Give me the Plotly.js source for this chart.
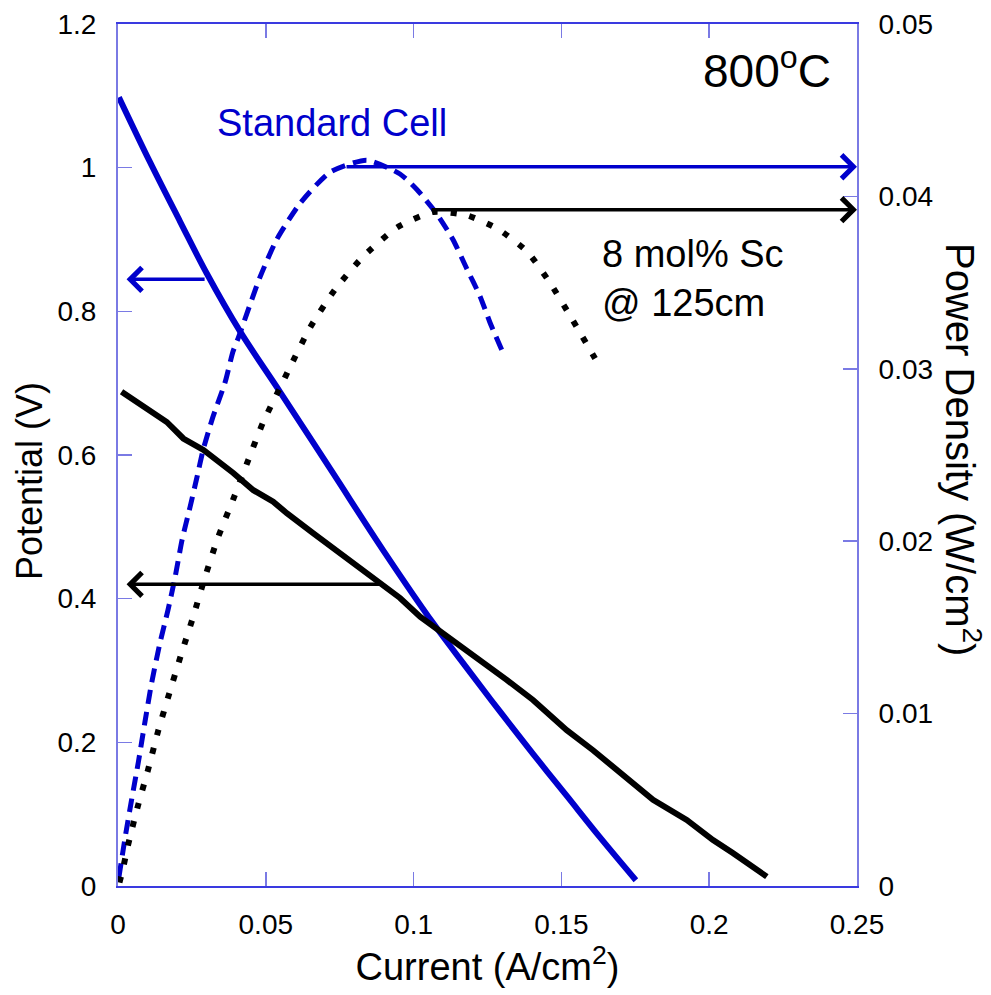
<!DOCTYPE html>
<html>
<head>
<meta charset="utf-8">
<script src="https://cdn.plot.ly/plotly-3.0.1.min.js"></script>
<style>html,body{margin:0;padding:0;background:#fff;}#chart{width:991px;height:995px;}</style>
</head>
<body>
<div id="chart"></div>
<script>
// Standard cell: potential (V) vs current (A/cm2)
var stdCurrentV = [0.0003, 0.0108, 0.0210, 0.0300, 0.0413, 0.0548, 0.0727, 0.0896, 0.1066, 0.1181, 0.1292, 0.1404, 0.1519, 0.1630, 0.1752];
var stdPotential = [1.098, 1.008, 0.925, 0.853, 0.772, 0.688, 0.575, 0.468, 0.366, 0.303, 0.243, 0.184, 0.125, 0.068, 0.008];

// Standard cell: power density (W/cm2)
var stdCurrentP = [0.0003, 0.0024, 0.0046, 0.0069, 0.0091, 0.0114, 0.0142, 0.0169, 0.0193, 0.0217, 0.0244, 0.0267, 0.0288, 0.0321, 0.0362, 0.0389, 0.0407, 0.0480, 0.0537, 0.0616, 0.0717, 0.0841, 0.0954, 0.1011, 0.1078, 0.1133, 0.1180, 0.1225, 0.1258, 0.1298];
var stdPower = [0.0005, 0.0028, 0.0050, 0.0072, 0.0095, 0.0118, 0.0141, 0.0160, 0.0179, 0.0201, 0.0220, 0.0237, 0.0253, 0.0272, 0.0292, 0.0310, 0.0318, 0.0353, 0.0375, 0.0396, 0.0414, 0.0421, 0.0413, 0.0404, 0.0390, 0.0375, 0.0358, 0.0342, 0.0327, 0.0311];

// 8 mol% Sc @ 125cm: potential
var scCurrentV = [0.0012, 0.0074, 0.0165, 0.0221, 0.0289, 0.0390, 0.0458, 0.0525, 0.0571, 0.0661, 0.0796, 0.0886, 0.0954, 0.1022, 0.1133, 0.1225, 0.1315, 0.1404, 0.1518, 0.1607, 0.1698, 0.1810, 0.1924, 0.2013, 0.2080, 0.2148, 0.2195];
var scPotential = [0.688, 0.670, 0.646, 0.623, 0.607, 0.575, 0.551, 0.535, 0.519, 0.491, 0.450, 0.422, 0.401, 0.375, 0.342, 0.315, 0.287, 0.259, 0.217, 0.189, 0.157, 0.120, 0.092, 0.064, 0.046, 0.026, 0.013];

// 8 mol% Sc @ 125cm: power density
var scCurrentP = [0.0005, 0.0018, 0.0033, 0.0065, 0.0101, 0.0136, 0.0174, 0.0215, 0.0254, 0.0294, 0.0338, 0.0389, 0.0436, 0.0491, 0.0548, 0.0582, 0.0650, 0.0734, 0.0829, 0.0944, 0.1066, 0.1181, 0.1286, 0.1384, 0.1461, 0.1539, 0.1614];
var scPower = [0.0002, 0.0011, 0.0023, 0.0045, 0.0067, 0.0090, 0.0112, 0.0135, 0.0156, 0.0179, 0.0202, 0.0224, 0.0245, 0.0269, 0.0289, 0.0301, 0.0324, 0.0346, 0.0365, 0.0382, 0.0391, 0.0389, 0.0381, 0.0368, 0.0350, 0.0328, 0.0306];

// Axis-pointer arrows: [tailX, headX, level]
var stdVArrow = [0.0298, 0.0029, 0.8445];
var scVArrow = [0.0892, 0.0029, 0.420];
var stdPArrow = [0.0768, 0.25, 0.04172];
var scPArrow = [0.1056, 0.25, 0.03923];

var BLUE = '#0000cc';
var AXIS = '#7a7ae4';
var FONT = 'Liberation Sans, Arial, sans-serif';

var traces = [
  {x: stdCurrentV, y: stdPotential, mode: 'lines', line: {color: BLUE, width: 6, shape: 'spline', smoothing: 1}, yaxis: 'y', name: 'Standard V'},
  {x: scCurrentV, y: scPotential, mode: 'lines', line: {color: '#000000', width: 6}, yaxis: 'y', name: 'Sc V'},
  {x: stdCurrentP, y: stdPower, mode: 'lines', line: {color: BLUE, width: 5, dash: '14px,8px', shape: 'spline', smoothing: 0.6}, yaxis: 'y2', name: 'Standard P'},
  {x: scCurrentP, y: scPower, mode: 'lines', line: {color: '#000000', width: 6, dash: '6px,13px', shape: 'spline', smoothing: 0.6}, yaxis: 'y2', name: 'Sc P'}
];

function arrow(a, yref, color) {
  return {x: a[1], y: a[2], ax: a[0], ay: a[2], xref: 'x', yref: yref, axref: 'x', ayref: yref,
    text: '', showarrow: true, arrowhead: 4, arrowsize: 1.3, arrowwidth: 3.5, arrowcolor: color, standoff: 0, startstandoff: 0};
}

var layout = {
  width: 991, height: 995,
  margin: {l: 118, r: 134, t: 24, b: 109},
  paper_bgcolor: '#ffffff', plot_bgcolor: '#ffffff',
  showlegend: false,
  font: {family: FONT, color: '#000000'},
  xaxis: {
    range: [0, 0.25], tick0: 0, dtick: 0.05,
    ticks: 'inside', ticklen: 14, tickwidth: 1.5, tickcolor: AXIS,
    showline: true, linecolor: '#3a3ae0', linewidth: 2, mirror: 'ticks',
    showgrid: false, zeroline: false,
    tickfont: {size: 28, family: FONT, color: '#000'},
    ticklabelstandoff: 12,
    title: {text: 'Current (A/cm<sup>2</sup>)', font: {size: 38, family: FONT, color: '#000'}, standoff: 6}
  },
  yaxis: {
    range: [0, 1.2], tick0: 0, dtick: 0.2,
    ticks: 'inside', ticklen: 14, tickwidth: 1.5, tickcolor: AXIS,
    showline: true, linecolor: AXIS, linewidth: 2, mirror: false,
    showgrid: false, zeroline: false,
    tickfont: {size: 28, family: FONT, color: '#000'},
    ticklabelstandoff: 14
  },
  yaxis2: {
    range: [0, 0.05], tick0: 0, dtick: 0.01, overlaying: 'y', side: 'right',
    ticks: 'inside', ticklen: 14, tickwidth: 1.5, tickcolor: AXIS,
    showline: true, linecolor: AXIS, linewidth: 2,
    showgrid: false, zeroline: false,
    tickfont: {size: 28, family: FONT, color: '#000'},
    ticklabelstandoff: 14
  },
  annotations: [
    arrow(stdVArrow, 'y', BLUE),
    arrow(scVArrow, 'y', '#000000'),
    arrow(stdPArrow, 'y2', BLUE),
    arrow(scPArrow, 'y2', '#000000'),
    {xref: 'paper', yref: 'paper', x: 0.9675, y: 0.949, xanchor: 'right', yanchor: 'middle', showarrow: false,
      text: '800<sup>o</sup>C', font: {size: 46, family: FONT, color: '#000'}},
    {xref: 'paper', yref: 'paper', x: 0.2896, y: 0.885, xanchor: 'center', yanchor: 'middle', showarrow: false,
      text: 'Standard Cell', font: {size: 38, family: FONT, color: BLUE}},
    {xref: 'paper', yref: 'paper', x: 0.652, y: 0.7053, xanchor: 'left', yanchor: 'middle', align: 'left', showarrow: false,
      text: '8 mol% Sc<br>@ 125cm', font: {size: 38, family: FONT, color: '#000'}},
    {xref: 'paper', yref: 'paper', x: -0.1204, y: 0.4698, xanchor: 'center', yanchor: 'middle', showarrow: false, textangle: -90,
      text: 'Potential (V)', font: {size: 36, family: FONT, color: '#000'}},
    {xref: 'paper', yref: 'paper', x: 1.1434, y: 0.5058, xanchor: 'center', yanchor: 'middle', showarrow: false, textangle: 90,
      text: 'Power Density (W/cm<sup>2</sup>)', font: {size: 40, family: FONT, color: '#000'}}
  ]
};

Plotly.newPlot('chart', traces, layout, {displayModeBar: false, staticPlot: true});
</script>
</body>
</html>
